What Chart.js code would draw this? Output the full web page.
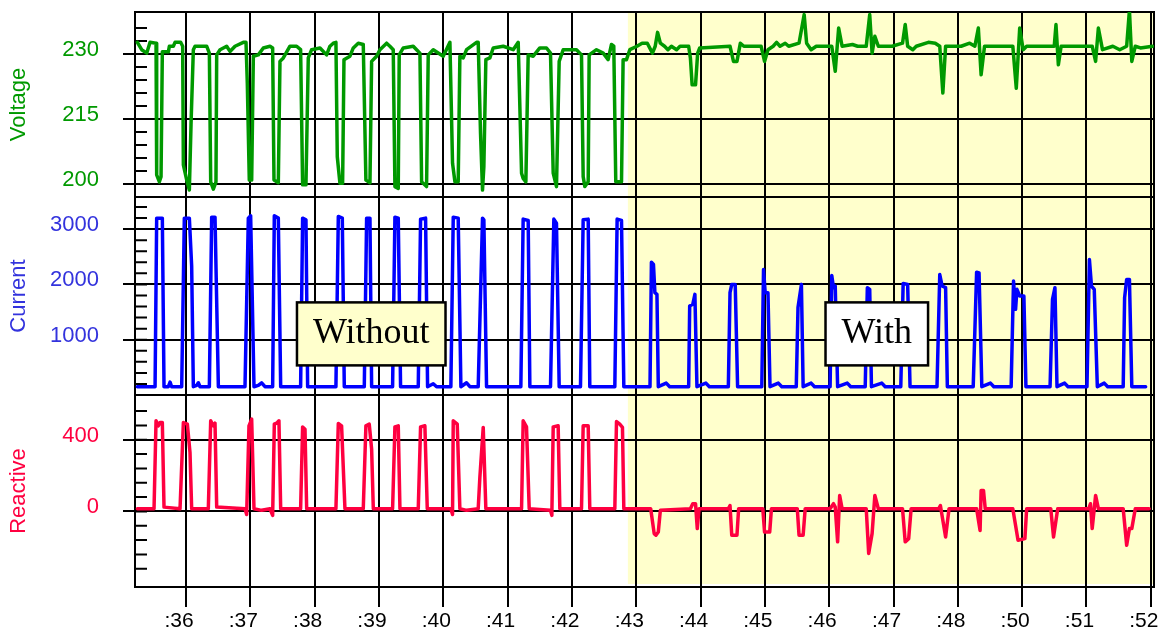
<!DOCTYPE html>
<html>
<head>
<meta charset="utf-8">
<title>Voltage, current and reactive power - without / with</title>
<script src="https://cdn.jsdelivr.net/npm/chart.js@4.4.1/dist/chart.umd.min.js"></script>
<style>
  html, body { margin: 0; padding: 0; background: #fff; }
  #wrap { position: relative; width: 1161px; height: 635px; }
</style>
</head>
<body>
<div id="wrap"><canvas id="chart" width="1161" height="635"></canvas></div>
<script>
// time axis labels (the source axis jumps from :48 to :50)
const xTickLabels = [':36', ':37', ':38', ':39', ':40', ':41', ':42', ':43',
  ':44', ':45', ':46', ':47', ':48', ':50', ':51', ':52'];

const voltageTicks = [200, 215, 230];
const currentTicks = [1000, 2000, 3000];
const reactiveTicks = [0, 400];

// voltage trace, time in minutes
const voltageTimes = [
  35.244, 35.311, 35.389, 35.441, 35.534, 35.544, 35.586, 35.612, 35.632, 35.726,
  35.741, 35.803, 35.829, 35.917, 35.948, 35.959, 36.011, 36.052, 36.078, 36.114,
  36.140, 36.321, 36.363, 36.384, 36.425, 36.466, 36.477, 36.529, 36.632, 36.684,
  36.762, 36.891, 36.933, 36.953, 36.984, 37.021, 37.047, 37.124, 37.202, 37.306,
  37.347, 37.368, 37.435, 37.461, 37.513, 37.616, 37.720, 37.782, 37.813, 37.865,
  37.901, 37.953, 38.083, 38.186, 38.238, 38.290, 38.331, 38.352, 38.393, 38.435,
  38.456, 38.549, 38.601, 38.678, 38.756, 38.797, 38.860, 38.886, 38.963, 39.015,
  39.119, 39.170, 39.222, 39.248, 39.300, 39.315, 39.378, 39.533, 39.585, 39.637,
  39.663, 39.740, 39.766, 39.844, 39.999, 40.103, 40.144, 40.181, 40.232, 40.258,
  40.310, 40.362, 40.517, 40.543, 40.579, 40.610, 40.631, 40.662, 40.724, 40.776,
  40.932, 41.087, 41.165, 41.217, 41.242, 41.284, 41.320, 41.398, 41.501, 41.605,
  41.667, 41.709, 41.760, 41.802, 41.864, 42.071, 42.149, 42.175, 42.201, 42.253,
  42.268, 42.382, 42.486, 42.563, 42.615, 42.651, 42.682, 42.771, 42.796, 42.848,
  42.900,
  43.011, 43.091, 43.172, 43.252, 43.295, 43.332, 43.375, 43.440, 43.493, 43.547,
  43.627, 43.681, 43.815, 43.842, 43.869, 43.922, 43.955, 43.987, 44.458, 44.512,
  44.566, 44.619, 44.673, 44.941, 44.995, 45.048, 45.129, 45.182, 45.236, 45.316,
  45.370, 45.531, 45.611, 45.649, 45.719, 45.799, 46.040, 46.094, 46.147, 46.201,
  46.362, 46.442, 46.576, 46.630, 46.667, 46.710, 46.764, 46.978, 47.140, 47.182,
  47.220, 47.300, 47.354, 47.542, 47.649, 47.719, 47.767, 47.810, 48.051, 48.185,
  48.265, 48.319, 48.362, 48.415, 48.855, 48.909, 48.962, 49.016, 49.070, 49.499,
  49.526, 49.563, 49.606, 50.089, 50.142, 50.185, 50.249, 50.410, 50.517, 50.625,
  50.668, 50.705, 50.759, 50.839, 51.027
];
const voltageValues = [
  232.7, 231.0, 230.2, 232.7, 232.5, 202.1, 200.5, 201.7, 230.5, 230.5,
  231.8, 231.8, 232.7, 232.7, 231.8, 204.4, 200.9, 198.6, 213.7, 231.0,
  231.8, 231.8, 230.2, 200.5, 198.8, 200.5, 229.8, 231.0, 231.8, 230.6,
  231.8, 232.7, 232.7, 223.3, 200.9, 200.9, 229.5, 229.8, 231.4, 231.8,
  231.4, 200.9, 200.3, 228.3, 229.1, 231.8, 231.8, 231.0, 199.8, 199.8,
  229.1, 231.0, 231.4, 229.8, 231.8, 232.5, 232.7, 206.3, 200.2, 200.2,
  228.7, 229.5, 231.4, 232.5, 232.2, 200.9, 200.3, 228.3, 229.5, 231.0,
  232.5, 231.8, 231.0, 199.4, 199.0, 229.8, 231.4, 231.8, 231.0, 230.2,
  200.5, 199.4, 229.8, 231.0, 229.5, 232.7, 204.8, 200.5, 200.5, 229.5,
  229.1, 231.0, 232.7, 232.7, 211.7, 198.6, 204.0, 228.7, 229.1, 231.4,
  231.8, 231.0, 232.7, 202.5, 201.3, 200.5, 229.8, 229.5, 231.4, 231.4,
  230.2, 202.5, 199.4, 228.3, 231.0, 231.0, 229.8, 201.7, 199.4, 200.5,
  229.8, 231.0, 230.2, 228.7, 232.2, 231.8, 200.5, 200.5, 228.7, 228.7,
  231.0,
  231.8, 232.5, 232.5, 230.2, 231.8, 235.0, 232.5, 231.8, 231.0, 231.8,
  231.0, 231.8, 231.8, 229.1, 222.9, 222.9, 230.2, 231.4, 231.8, 228.3,
  228.3, 232.5, 231.8, 231.8, 228.3, 231.0, 231.8, 232.7, 231.8, 232.5,
  231.8, 232.5, 239.1, 232.5, 231.0, 231.8, 231.8, 226.0, 236.0, 231.8,
  232.2, 231.8, 231.8, 239.1, 230.2, 234.1, 231.8, 231.8, 232.5, 236.8,
  231.8, 231.0, 231.8, 232.7, 232.5, 231.8, 221.0, 231.8, 231.8, 232.5,
  231.8, 236.0, 225.2, 231.8, 231.8, 222.1, 236.0, 231.0, 231.8, 231.8,
  236.8, 227.5, 231.8, 231.8, 228.3, 236.0, 231.0, 231.8, 231.0, 231.8,
  240.1, 228.3, 231.8, 231.4, 231.8
];

// current trace
const currentTimes = [
  35.244, 35.519, 35.544, 35.632, 35.658, 35.726, 35.752, 35.777, 35.933, 35.974,
  36.052, 36.088, 36.114, 36.166, 36.192, 36.218, 36.363, 36.399, 36.451, 36.503,
  36.917, 36.969, 37.005, 37.057, 37.124, 37.176, 37.228, 37.347, 37.373, 37.435,
  37.472, 37.782, 37.813, 37.865, 37.891, 38.331, 38.368, 38.430, 38.461, 38.772,
  38.808, 38.860, 38.886, 39.212, 39.248, 39.300, 39.336, 39.611, 39.647, 39.725,
  39.756, 39.844, 39.896, 40.118, 40.155, 40.232, 40.274, 40.362, 40.414, 40.543,
  40.610, 40.631, 40.673, 41.206, 41.242, 41.320, 41.346, 41.667, 41.719, 41.760,
  41.802, 42.133, 42.175, 42.253, 42.278, 42.667, 42.703, 42.771, 42.807,
  43.214, 43.236, 43.268, 43.290, 43.322, 43.343, 43.466, 43.520, 43.815, 43.831,
  43.879, 43.912, 43.944, 44.083, 44.137, 44.432, 44.458, 44.485, 44.539, 44.576,
  44.952, 44.979, 45.005, 45.048, 45.080, 45.209, 45.263, 45.488, 45.515, 45.568,
  45.595, 45.719, 45.772, 46.014, 46.040, 46.067, 46.094, 46.131, 46.281, 46.335,
  46.560, 46.593, 46.630, 46.657, 46.818, 46.871, 47.113, 47.150, 47.220, 47.257,
  47.676, 47.719, 47.756, 47.810, 47.837, 48.239, 48.292, 48.330, 48.373, 48.507,
  48.560, 48.829, 48.866, 48.898, 48.919, 48.962, 49.027, 49.059, 49.434, 49.472,
  49.510, 49.542, 49.660, 49.713, 50.008, 50.046, 50.078, 50.121, 50.169, 50.276,
  50.330, 50.571, 50.593, 50.625, 50.668, 50.705, 50.920
];
const currentValues = [
  150, 150, 3198, 3198, 150, 150, 233, 150, 150, 3198,
  3198, 2329, 150, 173, 221, 150, 150, 3216, 3216, 150,
  150, 3198, 3240, 150, 173, 221, 150, 150, 3240, 3198,
  150, 150, 3198, 3168, 150, 150, 3228, 3198, 150, 150,
  3198, 3198, 150, 150, 3216, 3198, 150, 150, 3180, 3198,
  150, 203, 150, 150, 3216, 3198, 150, 221, 150, 150,
  3198, 3168, 150, 150, 3180, 3156, 150, 150, 3180, 3108,
  150, 150, 3168, 3180, 150, 150, 3180, 3156, 150,
  150, 2401, 2359, 1850, 1820, 150, 215, 150, 150, 1610,
  1640, 1820, 150, 215, 150, 150, 1850, 2000, 2000, 150,
  150, 2269, 1850, 1850, 150, 215, 150, 150, 1580, 2000,
  150, 215, 150, 150, 2161, 1940, 1970, 150, 215, 150,
  150, 1940, 1910, 150, 215, 150, 150, 2018, 2000, 150,
  150, 2179, 1970, 1940, 150, 150, 2221, 2209, 150, 215,
  150, 150, 2060, 1550, 1910, 1790, 1790, 150, 150, 1730,
  1940, 150, 215, 150, 150, 2449, 1970, 1910, 150, 215,
  150, 150, 1760, 2090, 2090, 150, 150
];

// reactive trace
const reactiveTimes = [
  35.244, 35.503, 35.534, 35.570, 35.596, 35.632, 35.658, 35.907, 35.959, 36.021,
  36.062, 36.088, 36.347, 36.384, 36.425, 36.451, 36.477, 36.917, 36.943, 36.979,
  37.021, 37.057, 37.176, 37.306, 37.347, 37.373, 37.409, 37.445, 37.472, 37.782,
  37.813, 37.850, 37.876, 38.331, 38.368, 38.419, 38.471, 38.756, 38.797, 38.849,
  38.886, 38.912, 39.212, 39.248, 39.300, 39.326, 39.611, 39.647, 39.714, 39.751,
  40.118, 40.144, 40.155, 40.217, 40.258, 40.362, 40.543, 40.569, 40.621, 40.662,
  41.217, 41.242, 41.294, 41.336, 41.667, 41.688, 41.709, 41.786, 41.812, 42.149,
  42.175, 42.253, 42.278, 42.667, 42.693, 42.744, 42.786, 42.807,
  43.225, 43.279, 43.306, 43.343, 43.375, 43.842, 43.879, 43.922, 43.949, 43.976,
  44.432, 44.458, 44.485, 44.566, 44.592, 44.968, 44.995, 45.075, 45.102, 45.504,
  45.531, 45.595, 45.627, 46.013, 46.067, 46.094, 46.131, 46.163, 46.201, 46.576,
  46.614, 46.667, 46.710, 46.764, 47.140, 47.182, 47.236, 47.274, 47.702, 47.729,
  47.810, 47.863, 48.292, 48.346, 48.362, 48.399, 48.426, 48.855, 48.936, 49.043,
  49.070, 49.445, 49.488, 49.553, 50.035, 50.062, 50.089, 50.142, 50.185, 50.571,
  50.625, 50.668, 50.705, 50.759, 50.973
];
const reactiveValues = [
  15, 15, 506, 478, 496, 496, 24, 15, 496, 487,
  330, 15, 15, 506, 478, 493, 24, 15, -17, 478,
  515, 15, 6, 15, -22, 487, 493, 506, 15, 15,
  472, 459, 15, 15, 491, 478, 15, 15, 478, 487,
  348, 15, 15, 472, 478, 15, 15, 472, 478, 15,
  15, -17, 506, 487, 15, 6, 15, 191, 469, 15,
  15, 506, 472, 15, 6, -22, 472, 478, 15, 15,
  478, 478, 15, 15, 502, 487, 469, 15,
  15, -124, -133, -115, 6, 15, 43, 43, -96, 15,
  15, 33, -133, -133, 15, 15, -115, -115, 15, 15,
  -133, -133, 15, 15, 43, 24, -170, 89, 15, 15,
  -235, -124, 89, 15, 15, -170, -152, 15, 15, 33,
  -143, 15, 15, -106, 117, 117, 15, 15, -161, -152,
  15, 15, -143, 15, 15, 43, -96, 89, 15, 15,
  -189, -96, -96, 15, 15
];

const shadeFrom = 42.87;   // start of the "with" period

const voltageColor = '#009900';
const currentColor = '#0000ff';
const currentText = '#3333dd';
const reactiveColor = '#ff0040';

const minorSteps = { yV: 3, yC: 200, yR: 80 };
const notes = [
  { text: 'Without', at: 38.88, level: 1105, fill: '#ffffcc' },
  { text: 'With', at: 46.74, level: 1105, fill: '#ffffff' }
];

const toPoints = (times, values) => times.map((t, i) => ({ x: t, y: values[i] }));

Chart.defaults.font.family = '"Liberation Sans", Arial, sans-serif';

// yellow background, minor ticks, frame and the two labels
const panelDecor = {
  id: 'panelDecor',
  beforeDraw(chart) {
    const { ctx, chartArea: a, scales: { x } } = chart;
    const x0 = x.getPixelForValue(shadeFrom);
    ctx.save();
    ctx.fillStyle = '#ffffcc';
    ctx.fillRect(x0, a.top, a.right - x0, a.bottom - a.top - 3);
    ctx.restore();
  },
  beforeDatasetsDraw(chart) {
    const { ctx, chartArea: a, scales } = chart;
    ctx.save();
    ctx.strokeStyle = '#000';
    ctx.lineWidth = 2;
    ctx.beginPath();
    for (const id of Object.keys(minorSteps)) {
      const s = scales[id];
      const step = minorSteps[id];
      const base = s.ticks[0].value;
      let v = base - Math.floor((base - s.min) / step) * step;
      for (; v <= s.max + 1e-9; v += step) {
        const py = s.getPixelForValue(v);
        if (py < s.top + 5 || py > s.bottom - 5) continue;
        ctx.moveTo(a.left, py);
        ctx.lineTo(a.left + 12, py);
      }
    }
    ctx.stroke();

    ctx.beginPath();
    ctx.moveTo(a.left, scales.yV.bottom);
    ctx.lineTo(a.right, scales.yV.bottom);
    ctx.moveTo(a.left, scales.yC.bottom);
    ctx.lineTo(a.right, scales.yC.bottom);
    ctx.stroke();
    ctx.strokeRect(a.left, a.top, a.right - a.left, a.bottom - a.top);
    ctx.restore();
  },
  afterDatasetsDraw(chart) {
    const { ctx, scales: { x, yC } } = chart;
    ctx.save();
    ctx.font = '36px "Liberation Serif", "Times New Roman", serif';
    ctx.textAlign = 'center';
    ctx.textBaseline = 'middle';
    for (const note of notes) {
      const cx = x.getPixelForValue(note.at);
      const cy = yC.getPixelForValue(note.level);
      const w = ctx.measureText(note.text).width + 32;
      const h = 63;
      ctx.fillStyle = note.fill;
      ctx.fillRect(cx - w / 2, cy - h / 2, w, h);
      ctx.lineWidth = 2.5;
      ctx.strokeStyle = '#000';
      ctx.strokeRect(cx - w / 2, cy - h / 2, w, h);
      ctx.fillStyle = '#000';
      ctx.fillText(note.text, cx, cy);
    }
    ctx.restore();
  }
};

const fitLeft = (s) => { s.width = 135; s.paddingTop = 0; s.paddingBottom = 0; };
const tickFont = { size: 22 };
const titleFont = { size: 22 };
const gridStyle = { color: '#000', lineWidth: 2, tickLength: 12 };

function panelAxis(ticks, min, max, weight, order, color, title) {
  return {
    type: 'linear',
    position: 'left',
    stack: 'panels',
    stackWeight: weight,
    weight: order,
    min: min,
    max: max,
    afterBuildTicks: (s) => { s.ticks = ticks.map(v => ({ value: v })); },
    afterFit: fitLeft,
    grid: gridStyle,
    border: { display: false },
    ticks: { color: color, font: tickFont, padding: 24, labelOffset: -4, callback: (v) => String(v) },
    title: { display: true, text: title, color: color, font: titleFont, padding: { top: 6, bottom: 0 } }
  };
}

new Chart(document.getElementById('chart'), {
  type: 'line',
  data: {
    datasets: [
      { label: 'Voltage', data: toPoints(voltageTimes, voltageValues), yAxisID: 'yV', borderColor: voltageColor, borderWidth: 3.5 },
      { label: 'Current', data: toPoints(currentTimes, currentValues), yAxisID: 'yC', borderColor: currentColor, borderWidth: 3.5 },
      { label: 'Reactive', data: toPoints(reactiveTimes, reactiveValues), yAxisID: 'yR', borderColor: reactiveColor, borderWidth: 3.5 }
    ]
  },
  options: {
    responsive: false,
    animation: false,
    devicePixelRatio: 1,
    layout: { padding: { top: 12, right: 7, left: 0, bottom: 0 } },
    elements: {
      line: { tension: 0, borderJoinStyle: 'round', borderCapStyle: 'round' },
      point: { radius: 0 }
    },
    plugins: { legend: { display: false }, tooltip: { enabled: false } },
    scales: {
      x: {
        type: 'linear',
        position: 'bottom',
        min: 35.207,
        max: 51.05,
        afterBuildTicks: (s) => { s.ticks = xTickLabels.map((_, i) => ({ value: 36 + i })); },
        afterFit: (s) => { s.height = 48; s.paddingLeft = 0; s.paddingRight = 0; },
        grid: { color: '#000', lineWidth: 2, tickLength: 20 },
        border: { display: false },
        ticks: {
          color: '#000', font: { size: 21 }, padding: 2, labelOffset: -7,
          autoSkip: false, maxRotation: 0,
          callback: (v) => xTickLabels[Math.round(v) - 36]
        }
      },
      yV: panelAxis(voltageTicks, 197, 239.7, 185, 3, voltageColor, 'Voltage'),
      yC: panelAxis(currentTicks, 0, 3580, 198, 2, currentText, 'Current'),
      yR: panelAxis(reactiveTicks, -422, 650, 192, 1, reactiveColor, 'Reactive')
    }
  },
  plugins: [panelDecor]
});
</script>
</body>
</html>
